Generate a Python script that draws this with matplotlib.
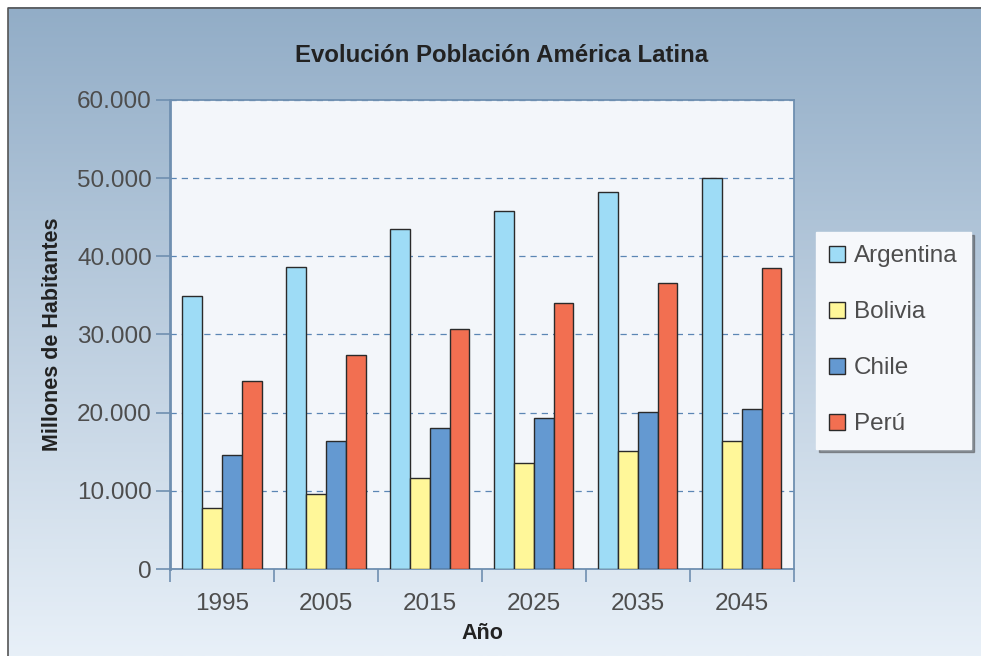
import matplotlib
matplotlib.use("Agg")
import matplotlib.pyplot as plt
import numpy as np
from matplotlib.ticker import FuncFormatter

plt.rcParams['font.family'] = ['Liberation Sans', 'DejaVu Sans']

years = ['1995', '2005', '2015', '2025', '2035', '2045']
paises = ['Argentina', 'Bolivia', 'Chile', 'Perú']
argentina = [34900, 38600, 43500, 45800, 48200, 50000]
bolivia = [7800, 9600, 11600, 13600, 15100, 16400]
chile = [14600, 16400, 18000, 19300, 20100, 20500]
peru = [24000, 27400, 30700, 34000, 36600, 38500]
colores = ['#9edcf6', '#fff799', '#6499d1', '#f26f51']

fig = plt.figure(figsize=(9.81, 6.56), dpi=100)

# fondo degradado
bg = fig.add_axes([0, 0, 1, 1])
grad = np.linspace(0, 1, 256).reshape(-1, 1)
top = np.array([0x92, 0xad, 0xc7]) / 255.0
bot = np.array([0xe8, 0xf0, 0xf8]) / 255.0
img = top[None, None, :] * (1 - grad[:, :, None]) + bot[None, None, :] * grad[:, :, None]
bg.imshow(img, extent=[0.008, 1, 0, 0.988], aspect='auto', origin='upper')
bg.set_xlim(0, 1)
bg.set_ylim(0, 1)
bg.plot([0.008, 0.008, 1], [0, 0.988, 0.988], color='#555555', lw=1.2)
bg.axis('off')

ax = fig.add_axes([0.1733, 0.1326, 0.636, 0.715])
ax.set_facecolor('#f3f6fa')

x = np.arange(len(years))
w = 0.19
series = [argentina, bolivia, chile, peru]
for i, (vals, c, nombre) in enumerate(zip(series, colores, paises)):
    ax.bar(x + (i - 1.5) * w, vals, w, color=c, edgecolor='#2a2a2a',
           linewidth=1.0, label=nombre, zorder=3)

ax.set_xlim(-0.5, len(years) - 0.5)
ax.set_ylim(0, 60000)
ax.set_yticks(range(0, 60001, 10000))
ax.yaxis.set_major_formatter(FuncFormatter(lambda v, p: '0' if v == 0 else '{:,.0f}'.format(v).replace(',', '.')))
ax.set_xticks(x)
ax.set_xticklabels(years)
ax.set_xticks(np.arange(-0.5, len(years)), minor=True)
ax.tick_params(axis='x', which='major', length=0, pad=17, labelsize=17.5, labelcolor='#4d4d4d')
ax.tick_params(axis='x', which='minor', length=9, width=1.2, color='#6f8fb0', direction='out')
ax.tick_params(axis='y', length=10, width=1.2, color='#6f8fb0', labelsize=17.5,
               labelcolor='#4d4d4d', pad=3)

ax.yaxis.grid(True, linestyle=(0, (5, 4)), color='#5b86b4', linewidth=0.9, zorder=1)
for s in ax.spines.values():
    s.set_color('#6f8fb0')
    s.set_linewidth(1.3)
ax.spines['left'].set_linewidth(2.0)

fig.text(0.511, 0.916, 'Evolución Población América Latina', fontsize=17.3,
         fontweight='bold', color='#222222', ha='center', va='center')
ax.set_xlabel('Año', fontsize=15.5, fontweight='bold', color='#222222', labelpad=6)
ax.set_ylabel('Millones de Habitantes', fontsize=15.5, fontweight='bold', color='#222222', labelpad=10)

leg = ax.legend(loc='upper left', bbox_to_anchor=(0.8318, 0.6463),
                bbox_transform=fig.transFigure, fontsize=17.5,
                frameon=True, fancybox=False, shadow=True, labelspacing=1.4,
                handlelength=0.66, handleheight=0.66, handletextpad=0.35,
                borderpad=0.55, borderaxespad=0)
leg.get_frame().set_facecolor('#f6f8fb')
leg.get_frame().set_edgecolor('#f6f8fb')
for t in leg.get_texts():
    t.set_color('#4d4d4d')

fig.savefig('out.png', dpi=100)
